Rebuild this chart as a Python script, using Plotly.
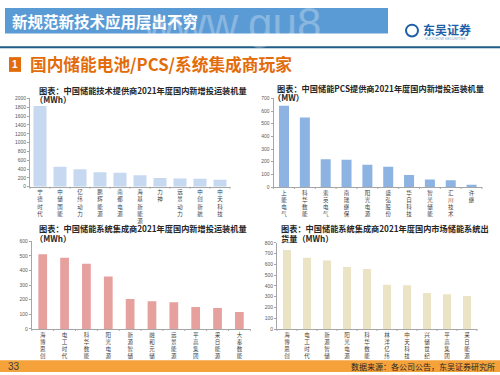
import plotly.graph_objects as go

W, H = 500, 375

# ---- data ----
cat1 = ["宁德时代", "中储国能", "亿纬动力", "鹏辉能源", "南都电源", "海基新能源", "力神", "远景动力", "中创新航", "中天科技"]
val1 = [1830, 450, 395, 330, 315, 260, 200, 185, 180, 160]
tick1 = [0, 200, 400, 600, 800, 1000, 1200, 1400, 1600, 1800, 2000]

cat2 = ["上能电气", "科华数能", "索英电气", "南瑞继保", "阳光电源", "盛弘股份", "华自科技", "智光储能", "汇川技术", "许继"]
val2 = [642, 550, 220, 215, 175, 160, 95, 60, 53, 18]
tick2 = [0, 100, 200, 300, 400, 500, 600, 700]

cat3 = ["海博思创", "电工时代", "科华数能", "阳光电源", "新源智储", "融和元储", "远景能源", "平高集团", "采日能源", "大秦数能"]
val3 = [510, 487, 445, 358, 205, 190, 183, 150, 143, 116]
tick3 = [0, 100, 200, 300, 400, 500, 600]

cat4 = ["海博思创", "电工时代", "新源智储", "阳光电源", "科华数能", "林洋亿纬", "中天科技", "兴储世纪", "平高集团", "采日能源"]
val4 = [733, 662, 635, 575, 556, 410, 405, 333, 323, 306]
tick4 = [0, 100, 200, 300, 400, 500, 600, 700, 800]

titles = [
    ("图表：中国储能技术提供商2021年度国内新增投运装机量", "（MWh）"),
    ("图表：中国储能PCS提供商2021年度国内新增投运装机量", "（MW）"),
    ("图表：中国储能系统集成商2021年度国内新增投运装机量", "（MWh）"),
    ("图表：中国储能系统集成商2021年度国内市场储能系统出", "货量（MWh）"),
]


def px(x):
    return x / W


def py(y):
    return 1 - y / H


FONT = "Noto Sans CJK SC"

fig = go.Figure()

panels = [
    # cats, vals, ticks, color, x0, x1, ytop, ybottom, bargap, title_x, title_y, line2_dx
    (cat1, val1, tick1, "#C6D9F1", 30, 230, 97, 186.7, 0.35, 37, 88, -4),
    (cat2, val2, tick2, "#8DB3E2", 273.6, 482, 97, 187, 0.52, 275, 86.5, -4),
    (cat3, val3, tick3, "#E6A19F", 31.8, 250.3, 242, 331.3, 0.6, 37, 229, -4),
    (cat4, val4, tick4, "#EAE3C4", 277, 477, 243.7, 331.3, 0.6, 279, 229, 0),
]

layout = dict(
    width=W, height=H,
    margin=dict(l=0, r=0, t=0, b=0),
    paper_bgcolor="white", plot_bgcolor="rgba(0,0,0,0)",
    showlegend=False,
    font=dict(family=FONT, color="#404040"),
)

annotations = []
shapes = []

for i, (cats, vals, ticks, color, x0, x1, ytop, ybot, gap, tx, ty, dx2) in enumerate(panels):
    n = "" if i == 0 else str(i + 1)
    fig.add_trace(go.Bar(
        x=cats, y=vals, marker=dict(color=color, line=dict(width=0)),
        xaxis="x" + n, yaxis="y" + n, hoverinfo="x+y", width=1 - gap,
    ))
    layout["xaxis" + n] = dict(
        domain=[px(x0), px(x1)], anchor="y" + n,
        type="category",
        tickmode="array", tickvals=cats,
        ticktext=["<br>".join(list(c)) for c in cats],
        tickfont=dict(size=5.5, color="#404040", family=FONT),
        tickangle=0,
        showline=True, linecolor="#A6A6A6", linewidth=1,
        ticks="", showgrid=False, zeroline=False,
        fixedrange=True,
    )
    layout["yaxis" + n] = dict(
        domain=[py(ybot), py(ytop)], anchor="x" + n,
        range=[0, ticks[-1]],
        tickmode="array", tickvals=ticks, ticktext=[str(t) for t in ticks],
        tickfont=dict(size=5, color="#595959", family="Liberation Sans"),
        showline=True, linecolor="#A6A6A6", linewidth=1,
        ticks="outside", ticklen=2, tickcolor="#A6A6A6",
        showgrid=False, zeroline=False, fixedrange=True,
    )
    for k in range(len(cats) + 1):
        xk = x0 + (x1 - x0) * k / len(cats)
        shapes.append(dict(type="line", xref="paper", yref="paper",
                           x0=px(xk), x1=px(xk), y0=py(ybot), y1=py(ybot + 2),
                           line=dict(color="#A6A6A6", width=1)))
    t1, t2 = titles[i]
    annotations.append(dict(text="<b>" + t1 + "</b>", x=px(tx), y=py(ty), xref="paper", yref="paper",
                            xanchor="left", yanchor="middle", showarrow=False,
                            font=dict(size=8.2, color="#262626", family=FONT)))
    annotations.append(dict(text="<b>" + t2 + "</b>", x=px(tx + dx2), y=py(ty + 9.5), xref="paper", yref="paper",
                            xanchor="left", yanchor="middle", showarrow=False,
                            font=dict(size=8.2, color="#262626", family=FONT)))

# ---- slide decorations ----
shapes.append(dict(type="rect", xref="paper", yref="paper", x0=px(5), x1=px(388), y0=py(31), y1=py(5),
                   fillcolor="#5B9BD5", line=dict(width=0), layer="below"))
shapes.append(dict(type="line", xref="paper", yref="paper", x0=0, x1=1, y0=py(45), y1=py(45),
                   line=dict(color="#1F5C87", width=2)))
shapes.append(dict(type="rect", xref="paper", yref="paper", x0=px(9), x1=px(21), y0=py(70), y1=py(55),
                   fillcolor="#E36C0A", line=dict(width=0)))
shapes.append(dict(type="rect", xref="paper", yref="paper", x0=0, x1=1, y0=0, y1=py(363),
                   fillcolor="#F5A23A", line=dict(width=0)))
shapes.append(dict(type="circle", xref="paper", yref="paper", x0=px(406), x1=px(418), y0=py(34), y1=py(22),
                   line=dict(color="#1F5FA8", width=2)))

annotations += [
    dict(text="www.gu8.", x=px(140), y=py(21), xref="paper", yref="paper",
         xanchor="left", yanchor="middle", showarrow=False,
         font=dict(size=44, color="rgba(255,255,255,0.28)", family="Liberation Sans")),
    dict(text="<b>新规范新技术应用层出不穷</b>", x=px(10), y=py(18), xref="paper", yref="paper",
         xanchor="left", yanchor="middle", showarrow=False,
         font=dict(size=15.5, color="white", family=FONT)),
    dict(text="<b>东吴证券</b>", x=px(421), y=py(27), xref="paper", yref="paper",
         xanchor="left", yanchor="middle", showarrow=False,
         font=dict(size=12, color="#1F5FA8", family=FONT)),
    dict(text="SOOCHOW SECURITIES", x=px(423), y=py(36.5), xref="paper", yref="paper",
         xanchor="left", yanchor="middle", showarrow=False,
         font=dict(size=3.5, color="#7F9FBF", family="Liberation Sans")),
    dict(text="<b>1</b>", x=px(15), y=py(62.5), xref="paper", yref="paper",
         xanchor="center", yanchor="middle", showarrow=False,
         font=dict(size=10, color="white", family="Liberation Sans")),
    dict(text="<b>国内储能电池/PCS/系统集成商玩家</b>", x=px(28), y=py(62.5), xref="paper", yref="paper",
         xanchor="left", yanchor="middle", showarrow=False,
         font=dict(size=16.7, color="#E36C0A", family=FONT)),
    dict(text="33", x=px(6), y=py(369.5), xref="paper", yref="paper",
         xanchor="left", yanchor="middle", showarrow=False,
         font=dict(size=10, color="#404040", family="Liberation Sans")),
    dict(text="数据来源：各公司公告，东吴证券研究所", x=px(497), y=py(369), xref="paper", yref="paper",
         xanchor="right", yanchor="middle", showarrow=False,
         font=dict(size=8, color="#262626", family=FONT)),
]

layout["shapes"] = shapes
layout["annotations"] = annotations
fig.update_layout(**layout)

fig.write_html("out.html", config={"displayModeBar": False},
               post_script="document.body.style.margin='0';document.body.style.overflow='hidden';")
